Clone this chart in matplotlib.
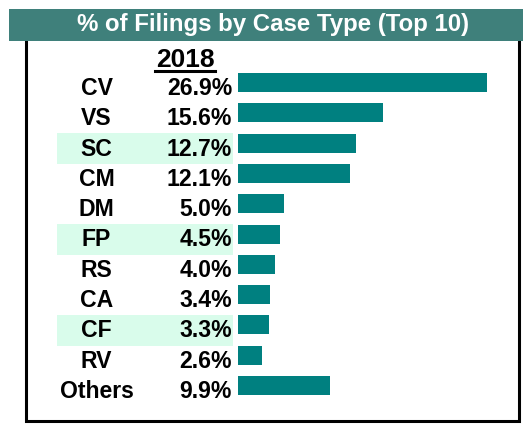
import matplotlib
matplotlib.use("Agg")
import matplotlib.pyplot as plt
from matplotlib.patches import Rectangle
from matplotlib.lines import Line2D
from matplotlib.transforms import blended_transform_factory

plt.rcParams['font.family'] = ['Liberation Sans', 'DejaVu Sans']

# data
case_types = ["CV", "VS", "SC", "CM", "DM", "FP", "RS", "CA", "CF", "RV", "Others"]
pct_2018 = [26.9, 15.6, 12.7, 12.1, 5.0, 4.5, 4.0, 3.4, 3.3, 2.6, 9.9]
highlighted = ["SC", "FP", "CF"]
title = "% of Filings by Case Type (Top 10)"
year_label = "2018"

W, H = 523, 424
fig = plt.figure(figsize=(W / 100, H / 100), dpi=100)

def fx(px):
    return px / W

def fy(py):
    return 1 - py / H

# bar axes, rows are 30.3 px apart, first bar centre at y=82.5 px
row_h = 30.3
top_px, bot_px = 67, 406
ax = fig.add_axes([fx(238), fy(bot_px), fx(518) - fx(238), (bot_px - top_px) / H])
ax.set_xlim(0, 280 / 9.27)
ax.set_ylim((bot_px - 82.5) / row_h, (top_px - 82.5) / row_h)
ax.axis("off")

rows = list(range(len(case_types)))
ax.barh(rows, pct_2018, height=19 / row_h, color="#008080", left=0)

trans = blended_transform_factory(fig.transFigure, ax.transData)
for i, (name, val) in enumerate(zip(case_types, pct_2018)):
    if name in highlighted:
        ax.add_patch(Rectangle((fx(57), i - 0.32), fx(233) - fx(57), 1.02,
                               transform=trans, facecolor="#D9FCEB",
                               edgecolor="none", clip_on=False, zorder=0))
    ax.text(fx(96.5), i + 0.41, name, transform=trans, ha="center", va="baseline",
            fontsize=16.6, fontweight="bold", clip_on=False)
    ax.text(fx(232), i + 0.41, f"{val:.1f}%", transform=trans, ha="right",
            va="baseline", fontsize=16.6, fontweight="bold", clip_on=False)

# year header with underline
fig.text(fx(185), fy(67), year_label, ha="center", va="baseline",
         fontsize=19, fontweight="bold")
fig.add_artist(Line2D([fx(155), fx(215)], [fy(70.5), fy(70.5)],
                      color="black", linewidth=2.2))

# outer frame
fig.add_artist(Rectangle((fx(26), fy(421)), fx(519) - fx(26), fy(38) - fy(421),
                         facecolor="none", edgecolor="black", linewidth=2.2))

# title banner
fig.add_artist(Rectangle((fx(9), fy(41)), fx(523) - fx(9), fy(9) - fy(41),
                         facecolor="#3F807B", edgecolor="none"))
fig.text(fx(273.5), fy(31), title, ha="center", va="baseline", fontsize=17.3,
         fontweight="bold", color="white")

fig.savefig("out.png", dpi=100)
